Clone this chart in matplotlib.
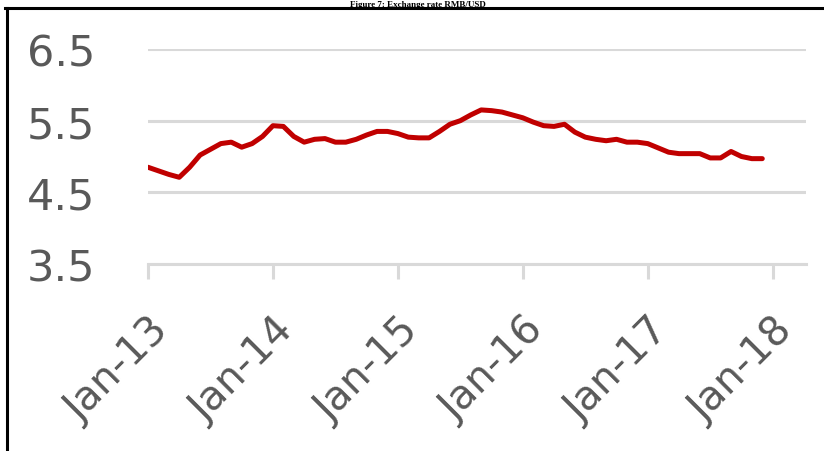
import matplotlib.pyplot as plt
from matplotlib.lines import Line2D
import numpy as np

# kurs miesięczny, styczeń 2013 - grudzień 2017
rate = [4.85, 4.80, 4.75, 4.71, 4.85, 5.02, 5.10, 5.18, 5.20, 5.13, 5.18, 5.28,
        5.43, 5.42, 5.28, 5.20, 5.24, 5.25, 5.20, 5.20, 5.24, 5.30, 5.35, 5.35,
        5.32, 5.27, 5.26, 5.26, 5.35, 5.45, 5.50, 5.58, 5.65, 5.64, 5.62, 5.58,
        5.54, 5.48, 5.43, 5.42, 5.45, 5.34, 5.27, 5.24, 5.22, 5.24, 5.20, 5.20,
        5.18, 5.12, 5.06, 5.04, 5.04, 5.04, 4.98, 4.98, 5.07, 5.00, 4.97, 4.97]
yTicks = [3.5, 4.5, 5.5, 6.5]
xTickLabels = ["Jan-13", "Jan-14", "Jan-15", "Jan-16", "Jan-17", "Jan-18"]

months = np.arange(len(rate))

fig = plt.figure(figsize=(8.24, 4.52), dpi=100)
ax = fig.add_axes([148/824, 1 - 265/452, 658/824, 215/452])

ax.plot(months, rate, color="#C00000", linewidth=3.6, solid_capstyle="round")

ax.set_ylim(3.5, 6.5)
ax.set_xlim(0, 63.2)
ax.set_yticks(yTicks)
ax.set_yticklabels([f"{v:.1f}" for v in yTicks])
ax.set_xticks(np.arange(0, 61, 12))
ax.set_xticklabels(xTickLabels, rotation=45, ha="right", rotation_mode="anchor")

ax.grid(axis="y", color="#D9D9D9", linewidth=2.2)
ax.set_axisbelow(True)
for s in ["top", "right", "left"]:
    ax.spines[s].set_visible(False)
ax.spines["bottom"].set_color("#D9D9D9")
ax.spines["bottom"].set_linewidth(2.2)

ax.tick_params(axis="y", length=0, pad=38, labelsize=31, labelcolor="#595959")
ax.tick_params(axis="x", length=11, width=2.2, color="#D9D9D9", pad=22,
               labelsize=29, labelcolor="#595959")

# ramka strony i podpis rysunku
fig.add_artist(Line2D([5/824, 1], [1 - 9/452, 1 - 9/452], color="black", linewidth=2.2))
fig.add_artist(Line2D([7/824, 7/824], [0, 1 - 9/452], color="black", linewidth=2.2))
fig.text(418/824, 1 - 1/452, "Figure 7: Exchange rate RMB/USD", ha="center", va="top",
         family="Liberation Serif", fontweight="bold", fontsize=6.5)

fig.savefig("out.png", dpi=100)
